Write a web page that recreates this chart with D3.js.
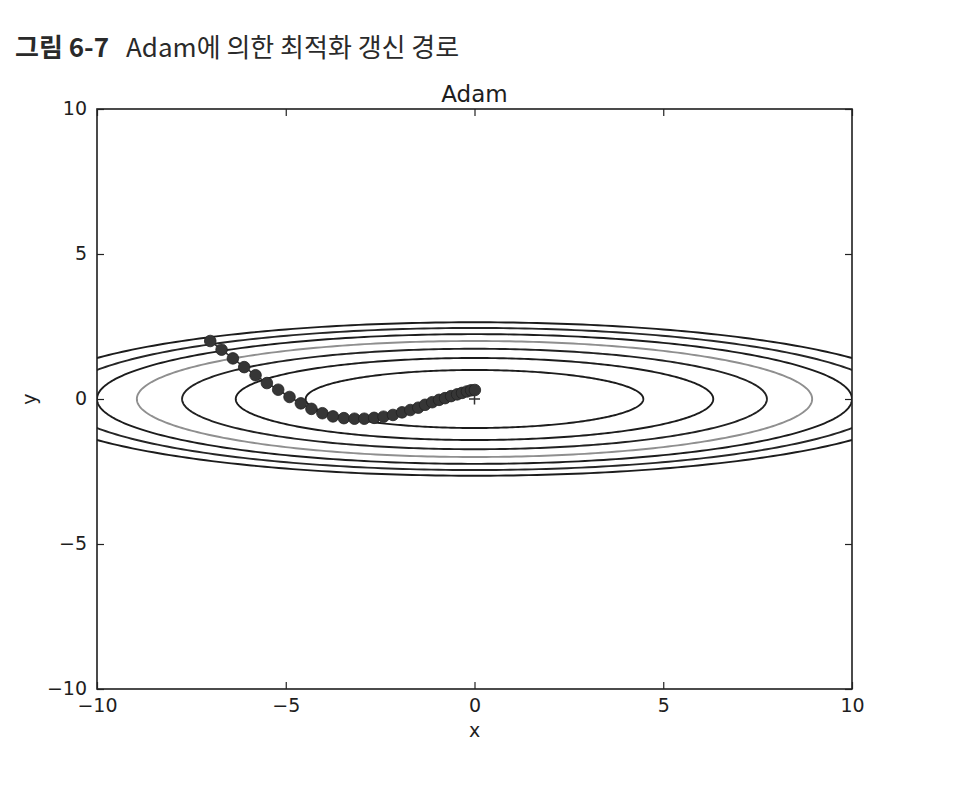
<!DOCTYPE html>
<html>
<head>
<meta charset="utf-8">
<script src="https://cdn.jsdelivr.net/npm/d3@7"></script>
<style>
  html, body { margin: 0; padding: 0; background: #ffffff; }
  svg { display: block; }
</style>
</head>
<body>
<script>
// ---- data ----
const figureLabel = "그림 6-7";
const figureCaption = "Adam에 의한 최적화 갱신 경로";
const chartTitle = "Adam";
const xTicks = [-10, -5, 0, 5, 10];
const yTicks = [-10, -5, 0, 5, 10];
const contourLevels = [1, 2, 3, 4, 5, 6, 7];
const contourColors = ["#1c1c1c", "#1c1c1c", "#222222", "#8f8f8f", "#1c1c1c", "#262626", "#1c1c1c"];
const pathX = [-7.0, -6.7, -6.4, -6.1, -5.8, -5.5, -5.2, -4.9, -4.6, -4.32, -4.03, -3.75, -3.46, -3.18, -2.92, -2.66,
  -2.41, -2.16, -1.92, -1.70, -1.49, -1.31, -1.12, -0.94, -0.78, -0.62, -0.46, -0.33, -0.20, -0.09, 0.01];
const pathY = [2.0, 1.7, 1.4, 1.1, 0.82, 0.55, 0.32, 0.07, -0.15, -0.34, -0.49, -0.60, -0.66, -0.68, -0.68, -0.65,
  -0.61, -0.55, -0.46, -0.38, -0.30, -0.20, -0.11, -0.03, 0.03, 0.10, 0.16, 0.21, 0.26, 0.30, 0.31];

// ---- layout ----
const W = 960, H = 803;
const plot = { left: 97, right: 852, top: 109, bottom: 689 };
const svg = d3.select("body").append("svg").attr("width", W).attr("height", H);

const x = d3.scaleLinear().domain([-10, 10]).range([plot.left, plot.right]);
const y = d3.scaleLinear().domain([-10, 10]).range([plot.bottom, plot.top]);

// figure caption
const cap = svg.append("text")
  .attr("x", 15).attr("y", 57)
  .attr("font-family", "'Noto Sans CJK KR', 'Noto Sans', sans-serif")
  .attr("font-size", 26)
  .attr("fill", "#2a2a2a");
cap.append("tspan").attr("font-weight", "bold").text(figureLabel);
cap.append("tspan").attr("dx", 17).text(figureCaption);

// clip
svg.append("defs").append("clipPath").attr("id", "clip")
  .append("rect")
  .attr("x", plot.left).attr("y", plot.top)
  .attr("width", plot.right - plot.left).attr("height", plot.bottom - plot.top);

// contours: f(x,y) = x^2/20 + y^2 = c
const angles = d3.range(0, 360, 1).map(d => d * Math.PI / 180);
const ellipse = d3.line().curve(d3.curveLinearClosed);
const cg = svg.append("g").attr("clip-path", "url(#clip)");
contourLevels.forEach((c, i) => {
  const pts = angles.map(t => [x(Math.sqrt(20 * c) * Math.cos(t)), y(Math.sqrt(c) * Math.sin(t))]);
  cg.append("path")
    .attr("d", ellipse(pts))
    .attr("fill", "none")
    .attr("stroke", contourColors[i])
    .attr("stroke-width", 1.9);
});

// optimization path
const pts = pathX.map((d, i) => [x(d), y(pathY[i])]);
const pg = svg.append("g").attr("clip-path", "url(#clip)");
pg.append("path")
  .attr("d", d3.line()(pts))
  .attr("fill", "none")
  .attr("stroke", "#333333")
  .attr("stroke-width", 1.6);
pg.selectAll("circle").data(pts).join("circle")
  .attr("cx", d => d[0]).attr("cy", d => d[1])
  .attr("r", 5.8)
  .attr("fill", "#363636")
  .attr("stroke", "#222222")
  .attr("stroke-width", 0.8);

// + marker at origin
const px0 = x(0), py0 = y(0);
pg.append("path")
  .attr("d", `M${px0 - 5.5},${py0}H${px0 + 5.5}M${px0},${py0 - 5.5}V${py0 + 5.5}`)
  .attr("stroke", "#333333").attr("stroke-width", 1.5).attr("fill", "none");

// frame
svg.append("rect")
  .attr("x", plot.left).attr("y", plot.top)
  .attr("width", plot.right - plot.left).attr("height", plot.bottom - plot.top)
  .attr("fill", "none").attr("stroke", "#1e1e1e").attr("stroke-width", 1.6);

// axes with inside ticks on all four sides
const fmt = d => d < 0 ? "\u2212" + Math.abs(d) : String(d);
const fontAxis = "'DejaVu Sans', sans-serif";

const axB = svg.append("g").attr("transform", `translate(0,${plot.bottom})`)
  .call(d3.axisBottom(x).tickValues(xTicks).tickFormat(fmt).tickSize(-7).tickPadding(10));
const axT = svg.append("g").attr("transform", `translate(0,${plot.top})`)
  .call(d3.axisTop(x).tickValues(xTicks).tickFormat("").tickSize(-7));
const axL = svg.append("g").attr("transform", `translate(${plot.left},0)`)
  .call(d3.axisLeft(y).tickValues(yTicks).tickFormat(fmt).tickSize(-7).tickPadding(10));
const axR = svg.append("g").attr("transform", `translate(${plot.right},0)`)
  .call(d3.axisRight(y).tickValues(yTicks).tickFormat("").tickSize(-7));
[axB, axT, axL, axR].forEach(a => {
  a.attr("font-size", 19).attr("font-family", fontAxis);
  a.select(".domain").remove();
  a.selectAll(".tick line").attr("stroke", "#222").attr("stroke-width", 1.2);
  a.selectAll("text").attr("font-family", fontAxis).attr("font-size", 19).attr("fill", "#1e1e1e");
});
axL.selectAll("text").attr("dy", "0.3em");

// labels
svg.append("text").attr("x", (plot.left + plot.right) / 2).attr("y", plot.top - 7)
  .attr("text-anchor", "middle").attr("font-family", fontAxis).attr("font-size", 23)
  .attr("fill", "#1e1e1e").text(chartTitle);
svg.append("text").attr("x", x(0)).attr("y", 737)
  .attr("text-anchor", "middle").attr("font-family", fontAxis).attr("font-size", 19)
  .attr("fill", "#1e1e1e").text("x");
svg.append("text")
  .attr("transform", `translate(36,${y(0)}) rotate(-90)`)
  .attr("text-anchor", "middle").attr("font-family", fontAxis).attr("font-size", 19)
  .attr("fill", "#1e1e1e").text("y");
</script>
</body>
</html>
